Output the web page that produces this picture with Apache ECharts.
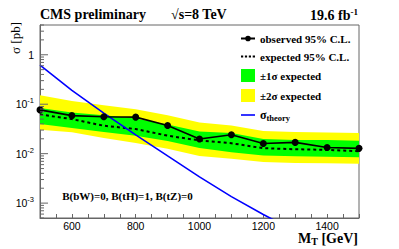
<!DOCTYPE html>
<html><head><meta charset="utf-8">
<script src="https://cdn.jsdelivr.net/npm/echarts@6/dist/echarts.min.js"></script>
<style>html,body{margin:0;padding:0;background:#fff}#c{width:399px;height:249px}</style>
</head><body><div id="c"></div>
<script>
const massPoints = [500, 600, 700, 800, 900, 1000, 1100, 1200, 1300, 1400, 1500];
const observed = [0.0768, 0.0588, 0.0556, 0.0548, 0.0370, 0.0198, 0.0242, 0.0161, 0.0169, 0.0133, 0.0128];
const expected = [0.0621, 0.0500, 0.0367, 0.0315, 0.0231, 0.0185, 0.01625, 0.0129, 0.0123, 0.0119, 0.0112];
const oneSigmaUp = [0.0843, 0.0681, 0.060, 0.0516, 0.0388, 0.0280, 0.0262, 0.0198, 0.0190, 0.0188, 0.0183];
const oneSigmaDown = [0.0397, 0.033, 0.0274, 0.0231, 0.0181, 0.0130, 0.0107, 0.00916, 0.0089, 0.0087, 0.0085];
const twoSigmaUp = [0.152, 0.1165, 0.0955, 0.0794, 0.060, 0.0425, 0.037, 0.0287, 0.0275, 0.0268, 0.0262];
const twoSigmaDown = [0.0305, 0.027, 0.0208, 0.0165, 0.0125, 0.0090, 0.00787, 0.00675, 0.0065, 0.0064, 0.00624];
const theoryMass = [500, 600, 700, 800, 900, 1000, 1100, 1200, 1300];
const theory = [0.62, 0.19, 0.066, 0.024, 0.0090, 0.0034, 0.00135, 0.00059, 0.00027];
const xTickLabels = [600, 800, 1000, 1200, 1400];
const yTickLabels = [1, 0.1, 0.01, 0.001];

const serif = 'Liberation Serif';
const sans = 'Liberation Sans';
const chart = echarts.init(document.getElementById('c'), null, {renderer: 'svg'});

function bandSeries(name, up, dn, color, z) {
  return {
    type: 'custom', name: name, z: z, silent: true,
    itemStyle: {color: color},
    data: [[massPoints[0], up[0]]],
    encode: {x: 0, y: 1},
    renderItem: function (params, api) {
      const pts = [];
      for (let i = 0; i < massPoints.length; i++) pts.push(api.coord([massPoints[i], up[i]]));
      for (let i = massPoints.length - 1; i >= 0; i--) pts.push(api.coord([massPoints[i], dn[i]]));
      return {type: 'polygon', shape: {points: pts}, style: {fill: color, stroke: null}};
    }
  };
}

// log-axis tick positions (decade multiples inside the range)
const yTicks = [];
for (let k = -4; k <= 0; k++) {
  for (let m = 1; m <= 9; m++) {
    const v = m * Math.pow(10, k);
    if (v >= 5e-4 && v <= 4) yTicks.push([500, v, m]);
  }
}

const iconObserved = 'path://M0,5h4.5v2h-4.5z M9.5,5h4.5v2h-4.5z M4.2,6a2.8,2.8 0 1,1 5.6,0a2.8,2.8 0 1,1 -5.6,0z';
const iconExpected = 'path://M0,0h2.2v1.8h-2.2z M3.9,0h2.2v1.8h-2.2z M7.8,0h2.2v1.8h-2.2z M11.7,0h2.3v1.8h-2.3z';
const iconTheory = 'path://M0,0h14v1.6h-14z';

const option = {
  animation: false,
  backgroundColor: '#fff',
  title: [
    {text: 'CMS preliminary', left: 40, top: 7, padding: 0,
     textStyle: {fontFamily: serif, fontWeight: 'bold', fontSize: 14, color: '#000'}},
    {text: '√s=8 TeV', left: 171, top: 7, padding: 0,
     textStyle: {fontFamily: serif, fontWeight: 'bold', fontSize: 14, color: '#000'}},
    {text: '19.6 fb{sup|-1}', right: 41, top: 7, padding: 0,
     textStyle: {fontFamily: serif, fontWeight: 'bold', fontSize: 14, color: '#000',
       rich: {sup: {fontFamily: serif, fontWeight: 'bold', fontSize: 9, color: '#000', padding: [0, 0, 7, 0]}}}}
  ],
  legend: {
    orient: 'vertical', left: 241, top: 33, padding: 0,
    itemWidth: 14, itemHeight: 13, itemGap: 7,
    textStyle: {fontFamily: serif, fontWeight: 'bold', fontSize: 11, color: '#000',
      rich: {
        g: {fontFamily: serif, fontWeight: 'bold', fontSize: 12, color: '#000'},
        t: {fontFamily: serif, fontWeight: 'bold', fontSize: 8.5, color: '#000', padding: [5, 0, 0, 0]}
      }},
    formatter: function (name) { return name === 'σtheory' ? '{g|σ}{t|theory}' : name; },
    data: [
      {name: 'observed 95% C.L.', icon: iconObserved, itemStyle: {color: '#000'}},
      {name: 'expected 95% C.L.', icon: iconExpected, itemStyle: {color: '#000'}},
      {name: '±1σ expected', icon: 'rect'},
      {name: '±2σ expected', icon: 'rect'},
      {name: 'σtheory', icon: iconTheory, itemStyle: {color: '#0000ff'}}
    ]
  },
  grid: {left: 40, right: 40, top: 25, bottom: 31, show: true, borderColor: '#666', borderWidth: 1, backgroundColor: 'transparent'},
  xAxis: {
    type: 'value', min: 500, max: 1500, interval: 50,
    axisLine: {show: true, lineStyle: {color: '#666', width: 1}},
    axisTick: {show: true, inside: true, length: 4, lineStyle: {color: '#666'}},
    splitLine: {show: false},
    axisLabel: {color: '#000', fontFamily: sans, fontSize: 10.5, margin: 3.5, lineHeight: 8,
      formatter: function (v) { return xTickLabels.indexOf(v) >= 0 ? String(v) : ''; }}
  },
  yAxis: {
    type: 'log', logBase: 10, min: 5e-4, max: 4,
    axisLine: {show: true, lineStyle: {color: '#666', width: 1}},
    axisTick: {show: false},
    splitLine: {show: false},
    axisLabel: {showMinLabel: false, showMaxLabel: false, margin: 6, color: '#000',
      formatter: function (v) {
        const e = Math.log10(v), r = Math.round(e);
        if (Math.abs(e - r) > 1e-6) return '';
        let ok = false;
        yTickLabels.forEach(function (t) { if (Math.abs(Math.log10(t) - r) < 1e-6) ok = true; });
        if (!ok) return '';
        return r === 0 ? '{b|1}' : '{b|10}{sup|' + r + '}';
      },
      rich: {
        b: {fontFamily: sans, fontSize: 10.5, color: '#000'},
        sup: {fontFamily: sans, fontSize: 7.5, color: '#000', padding: [0, 0, 7, 0]}
      }}
  },
  graphic: [
    {type: 'text', x: 15, y: 38, rotation: Math.PI / 2,
     style: {text: 'σ [pb]', font: '13px "Liberation Serif"', fill: '#000', align: 'center', verticalAlign: 'middle'}},
    {type: 'text', x: 127.5, y: 196,
     style: {text: 'B(bW)=0, B(tH)=1, B(tZ)=0', font: 'bold 11px "Liberation Serif"', fill: '#000', align: 'center', verticalAlign: 'middle'}},
    {type: 'text', x: 358, y: 232.5,
     style: {text: '{m|M}{s|T}{m| [GeV]}', align: 'right', verticalAlign: 'top',
       rich: {
         m: {fontFamily: serif, fontWeight: 'bold', fontSize: 14, lineHeight: 11, fill: '#000'},
         s: {fontFamily: serif, fontWeight: 'bold', fontSize: 10, lineHeight: 11, fill: '#000', padding: [6, 0, 0, 0]}
       }}}
  ],
  series: [
    bandSeries('±2σ expected', twoSigmaUp, twoSigmaDown, '#ffff00', 1),
    bandSeries('±1σ expected', oneSigmaUp, oneSigmaDown, '#00ff00', 2),
    {type: 'line', name: 'expected 95% C.L.', z: 3, silent: true,
     data: massPoints.map(function (m, i) { return [m, expected[i]]; }),
     symbol: 'none', lineStyle: {color: '#000', width: 2, type: [3, 3]}, itemStyle: {color: '#000'}},
    {type: 'line', name: 'σtheory', z: 4, silent: true,
     data: theoryMass.map(function (m, i) { return [m, theory[i]]; }),
     symbol: 'none', lineStyle: {color: '#0000ff', width: 1.6}, itemStyle: {color: '#0000ff'}},
    {type: 'line', name: 'observed 95% C.L.', z: 5, silent: true,
     data: massPoints.map(function (m, i) { return [m, observed[i]]; }),
     symbol: 'circle', symbolSize: 7, lineStyle: {color: '#000', width: 1.6}, itemStyle: {color: '#000'}},
    {type: 'custom', name: 'yticks', z: 6, silent: true, data: yTicks, encode: {x: 0, y: 1},
     renderItem: function (params, api) {
       const p = api.coord([api.value(0), api.value(1)]);
       const len = api.value(2) === 1 ? 8 : 4;
       return {type: 'line', shape: {x1: p[0], y1: p[1], x2: p[0] + len, y2: p[1]}, style: {stroke: '#666', lineWidth: 1}};
     }}
  ]
};
chart.setOption(option);
</script>
</body></html>
